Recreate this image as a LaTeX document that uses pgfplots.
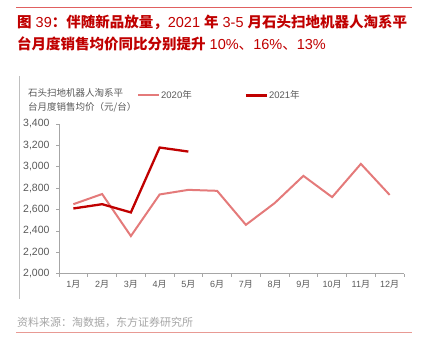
\documentclass[border=0pt]{standalone}
\usepackage{fontspec}
\setmainfont{Liberation Sans}
\newfontfamily\cjk{Noto Sans CJK SC}
\usepackage{pgfplots}
\pgfplotsset{compat=1.18}
\definecolor{c20}{HTML}{E47A7A}
\definecolor{c21}{HTML}{C00000}
\definecolor{tred}{HTML}{C00000}
\definecolor{lab}{HTML}{595959}
\definecolor{src}{HTML}{A6A6A6}
\definecolor{axgray}{HTML}{A6A6A6}
\definecolor{topred}{HTML}{E06060}
\definecolor{botred}{HTML}{E89A94}
\definecolor{vgray}{HTML}{BFBFBF}
\begin{document}
\begin{tikzpicture}[x=1pt,y=1pt]
\useasboundingbox (0,0) rectangle (431,355);
% frame lines
\draw[topred, line width=1pt] (16,347) -- (412,347);
\draw[botred, line width=1pt] (16,22) -- (412,22);
\draw[vgray, line width=0.6pt] (19.5,279) -- (19.5,56);
% title
\node[anchor=west, inner sep=0, text=tred] at (17,333) {\fontsize{14.5}{16}\selectfont{\cjk\bfseries 图} 39{\cjk\bfseries ：伴随新品放量，}2021 {\cjk\bfseries 年} 3-5 {\cjk\bfseries 月石头扫地机器人淘系平}};
\node[anchor=west, inner sep=0, text=tred] at (17,311) {\fontsize{14.5}{16}\selectfont{\cjk\bfseries 台月度销售均价同比分别提升} 10\%{\cjk 、}16\%{\cjk 、}13\%};
% y label
\node[anchor=west, inner sep=0, text=lab] at (28,262) {\fontsize{9.5}{11}\selectfont\cjk 石头扫地机器人淘系平};
\node[anchor=west, inner sep=0, text=lab] at (28,248) {\fontsize{9.5}{11}\selectfont\cjk 台月度销售均价（元/台）};
% source
\node[anchor=west, inner sep=0, text=src] at (17,33) {\fontsize{11}{13}\selectfont\cjk 资料来源：淘数据，东方证券研究所};
\begin{axis}[
  at={(59pt,81.3pt)}, anchor=south west,
  scale only axis, width=345pt, height=149.7pt,
  xmin=0.5, xmax=12.5, ymin=2000, ymax=3400,
  ytick={2000,2200,...,3400},
  xtick={1,...,12},
  xticklabels={1{\cjk 月},2{\cjk 月},3{\cjk 月},4{\cjk 月},5{\cjk 月},6{\cjk 月},7{\cjk 月},8{\cjk 月},9{\cjk 月},10{\cjk 月},11{\cjk 月},12{\cjk 月}},
  minor xtick={0.5,1.5,2.5,3.5,4.5,5.5,6.5,7.5,8.5,9.5,10.5,11.5,12.5},
  axis x line*=bottom, axis y line*=left,
  axis line style={draw=axgray, -},
  tick align=outside,
  major x tick style={draw=none},
  minor tick length=3pt, major tick length=3pt,
  tick style={axgray, line width=0.6pt},
  /pgf/number format/assume math mode=true,
  /pgf/number format/fixed,
  /pgf/number format/1000 sep={,},
  y tick label style={font=\fontsize{10.5}{12}\selectfont, text=lab, xshift=-3pt},
  x tick label style={font=\fontsize{9}{11}\selectfont, text=lab},
  legend columns=2,
  legend style={at={(axis description cs:0.226,1.191)}, anchor=west, draw=none, fill=none, inner sep=0pt,
    font=\fontsize{9.5}{11}\selectfont, text=lab,
    /tikz/every even column/.append style={column sep=52pt},
    nodes={inner sep=1pt}},
  legend image code/.code={\draw[#1] (0pt,0pt) -- (21pt,0pt);},
  clip=false,
]
\addplot[c20, line width=2pt] coordinates {
(1,2650) (2,2745) (3,2352) (4,2741) (5,2784) (6,2775) (7,2457) (8,2660) (9,2915) (10,2716) (11,3027) (12,2737)};
\addlegendentry{2020{\cjk 年}}
\addplot[c21, line width=2.3pt] coordinates {
(1,2610) (2,2650) (3,2573) (4,3180) (5,3142)};
\addlegendentry{2021{\cjk 年}}
\end{axis}
\end{tikzpicture}
\end{document}
